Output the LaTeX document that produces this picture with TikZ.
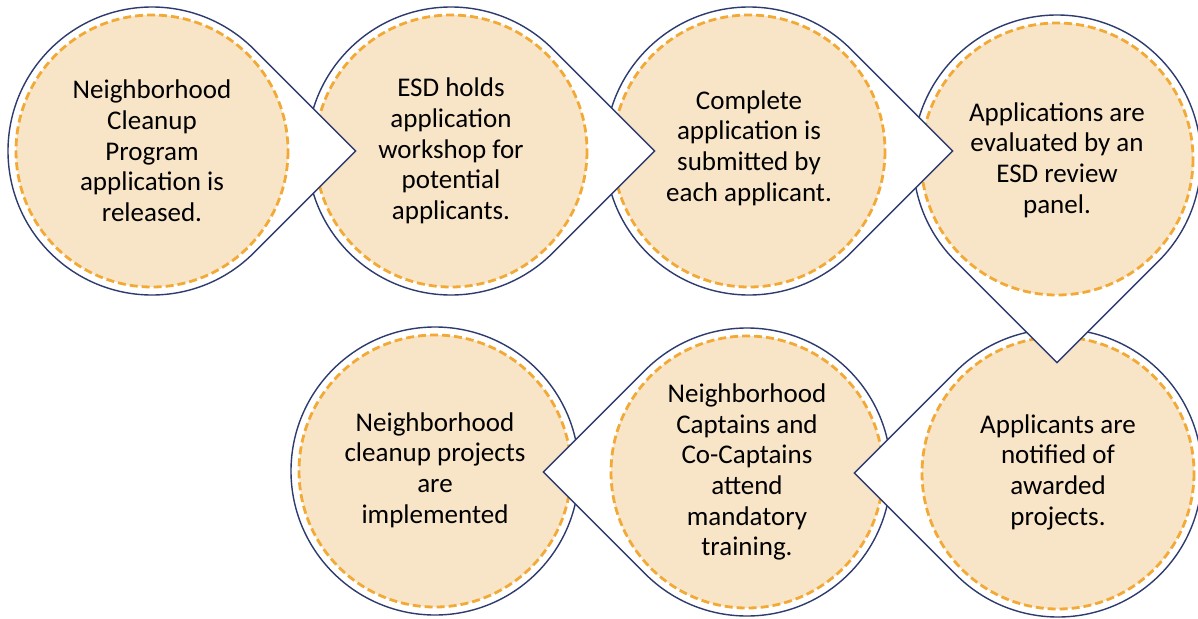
\documentclass[tikz,border=0pt]{standalone}
\usepackage{fontspec}
\setmainfont{Carlito}
\usetikzlibrary{calc}
\definecolor{navy}{HTML}{2E3B6E}
\definecolor{peach}{HTML}{F8E5C8}
\definecolor{dashor}{HTML}{F3A935}
\tikzset{
  outerdrop/.style={draw=navy, line width=1.4pt, fill=white, line join=miter},
  innerdisc/.style={fill=peach, draw=dashor, line width=2.8pt, dash pattern=on 8pt off 4pt},
  steptext/.style={align=center, font=\fontsize{27}{30.7}\selectfont, text=black, inner sep=0pt}
}
% #1 cx, #2 cy, #3 tip angle, #4 name
\newcommand\stepdrop[4]{%
  \coordinate (#4c) at (#1,#2);
  \filldraw[outerdrop] ($(#4c)+(#3+45:144)$) arc[start angle=#3+45, end angle=#3+315, radius=144]
     -- ($(#4c)+(#3:203.6)$) coordinate (#4tip) -- cycle;
  \filldraw[innerdisc] (#4c) circle[radius=136];
}
\begin{document}
\begin{tikzpicture}[x=1pt,y=-1pt]
\useasboundingbox (0,0) rectangle (1198,618);
\clip (0,0) rectangle (1198,618);
\fill[white] (0,0) rectangle (1198,618);
% last step first, so that each tip lies over the next circle
\coordinate (s7c) at (435,471);
\filldraw[outerdrop] (s7c) circle[radius=144];
\filldraw[innerdisc] (s7c) circle[radius=136];
\stepdrop{747}{472}{180}{s6}
\stepdrop{1058}{473}{180}{s5}
\stepdrop{1057}{159}{90}{s4}
\stepdrop{749}{151}{0}{s3}
\stepdrop{451}{151}{0}{s2}
\stepdrop{152}{151}{0}{s1}
% texts
\node[steptext] (t1) at (152,151) {Neighborhood\\Cleanup\\Program\\application is\\released.};
\node[steptext] (t2) at (451,151) {ESD holds\\application\\workshop for\\potential\\applicants.};
\node[steptext] (t3) at (749,148) {Complete\\application is\\submitted by\\each applicant.};
\node[steptext] (t4) at (1057,160) {Applications are\\evaluated by an\\ESD review\\panel.};
\node[steptext] (t5) at (1058,472) {Applicants are\\notified of\\awarded\\projects.};
\node[steptext] (t6) at (747,472) {Neighborhood\\Captains and\\Co-Captains\\attend\\mandatory\\training.};
\node[steptext] (t7) at (435,470) {Neighborhood\\cleanup projects\\are\\implemented};
\end{tikzpicture}
\end{document}
